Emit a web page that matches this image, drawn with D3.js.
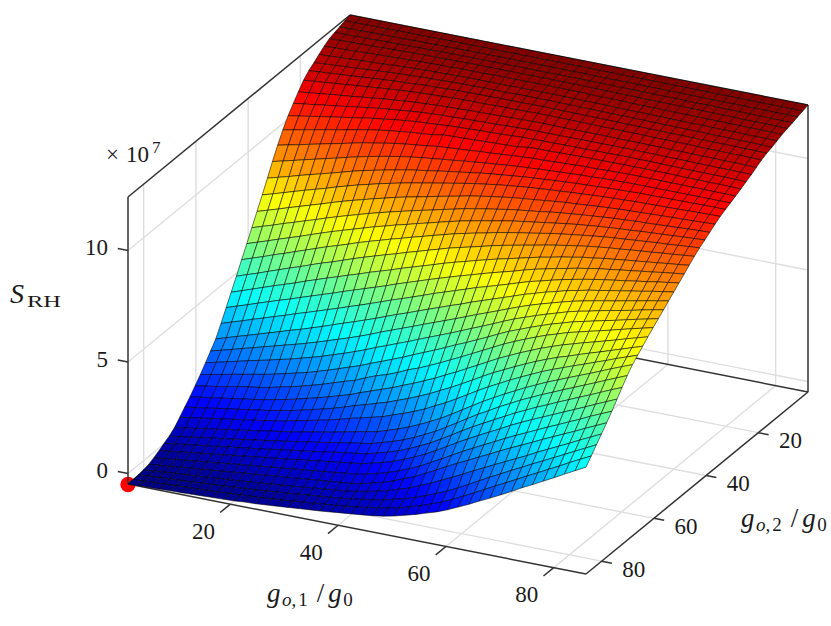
<!DOCTYPE html>
<html>
<head>
<meta charset="utf-8">
<script src="https://cdn.jsdelivr.net/npm/d3@7"></script>
<style>
  body { margin: 0; background: #fff; }
  text { font-family: "Liberation Serif", serif; fill: #1a1a1a; }
</style>
</head>
<body>
<div id="chart"></div>
<script>
// mesh positions of the surface, same grid on both axes
var gridG1 = [1,3,5,6.9,8.9,10.9,12.9,14.8,16.8,18.8,20.8,22.7,24.7,26.7,28.7,30.7,32.6,34.6,36.6,38.6,40.5,42.5,44.5,46.5,48.4,50.4,52.4,54.4,56.3,58.3,60.3,62.3,64.3,66.2,68.2,70.2,72.2,74.1,76.1,78.1,80.1,82,84,86];
var gridG2 = gridG1.slice().reverse();

var g1Ticks = [20, 40, 60, 80];
var g2Ticks = [20, 40, 60, 80];
var zTicks = [0, 500, 1000];
var zTickLabels = ["0", "5", "10"];

// S_RH, in units of 10^5
// one row per g1 value, columns run from g2 = 86 (front) to g2 = 1 (back)
var sRH = [
[-47,-46,-44,-40,-35,-24,-11,3,16,35,62,89,116,147,178,212,246,281,331,383,434,486,541,594,647,701,756,812,868,922,972,1016,1052,1085,1118,1142,1159,1177,1195,1210,1218,1225,1233,1240],
[-45,-44,-41,-36,-30,-19,-5,10,23,43,70,97,124,155,188,223,259,296,347,399,450,503,558,610,663,716,770,825,880,933,981,1024,1059,1091,1123,1146,1162,1179,1197,1211,1219,1226,1233,1240],
[-44,-41,-38,-32,-25,-13,1,16,30,50,77,104,131,162,197,235,272,311,362,415,467,519,574,626,678,731,785,838,892,943,991,1032,1065,1096,1127,1149,1165,1182,1198,1212,1219,1226,1234,1240],
[-42,-39,-35,-28,-20,-8,8,23,38,58,85,112,139,170,207,246,285,325,378,431,483,536,591,642,694,746,799,852,904,954,1000,1040,1072,1102,1132,1153,1168,1184,1200,1213,1220,1227,1234,1240],
[-40,-36,-32,-24,-15,-2,14,29,45,65,92,119,146,181,216,258,298,340,393,447,500,553,607,658,709,761,814,865,916,965,1010,1048,1078,1107,1136,1156,1171,1187,1202,1214,1221,1227,1234,1240],
[-39,-34,-29,-21,-10,4,20,36,52,73,100,127,154,189,226,269,312,355,409,463,516,570,624,674,725,776,828,878,928,976,1019,1056,1085,1112,1141,1160,1175,1189,1204,1216,1222,1228,1235,1240],
[-37,-32,-25,-17,-5,9,26,43,59,80,107,134,161,196,235,280,325,370,424,478,532,586,641,691,740,791,842,891,940,986,1028,1063,1092,1118,1145,1164,1178,1191,1205,1217,1222,1228,1235,1240],
[-35,-29,-22,-13,0,15,32,49,66,88,115,142,169,204,245,292,338,385,440,494,549,603,657,707,756,806,857,904,952,997,1038,1071,1098,1123,1150,1167,1181,1194,1207,1218,1223,1229,1235,1240],
[-33,-27,-19,-9,5,20,39,56,74,95,122,149,179,217,257,303,351,399,455,510,565,620,674,723,771,821,871,918,964,1008,1047,1079,1105,1129,1154,1171,1184,1196,1209,1219,1224,1229,1235,1240],
[-31,-23,-15,-5,10,26,45,62,81,104,131,159,189,227,269,317,365,415,471,526,582,635,689,738,786,835,885,930,975,1016,1055,1085,1110,1133,1158,1173,1186,1199,1210,1220,1224,1230,1236,1240],
[-29,-21,-12,0,15,31,51,70,89,111,140,168,200,239,281,330,380,431,487,542,597,652,705,753,800,848,897,941,985,1025,1062,1092,1115,1138,1161,1176,1188,1200,1211,1220,1225,1230,1236,1240],
[-25,-18,-8,4,20,37,57,77,96,119,150,179,212,252,295,344,395,447,502,558,613,668,721,767,814,861,909,951,994,1033,1067,1097,1120,1141,1164,1179,1190,1201,1212,1221,1226,1231,1236,1240],
[-23,-15,-4,9,25,42,63,84,104,128,160,191,225,266,310,360,411,464,519,574,628,684,736,782,827,873,920,961,1003,1040,1073,1102,1124,1144,1167,1180,1191,1202,1213,1221,1226,1231,1236,1240],
[-19,-10,1,13,29,48,70,91,112,138,171,203,238,282,326,376,427,480,535,590,645,699,750,795,840,886,931,971,1010,1045,1077,1105,1127,1147,1168,1182,1193,1203,1214,1222,1226,1231,1236,1240],
[-15,-7,5,18,34,53,76,98,120,146,182,216,253,298,343,393,444,497,552,606,660,714,765,809,852,897,941,979,1017,1051,1081,1108,1130,1149,1170,1184,1194,1204,1214,1222,1226,1231,1236,1240],
[-11,-2,10,23,39,59,83,105,128,156,194,231,267,312,359,411,462,514,569,622,675,728,778,821,864,907,950,986,1022,1057,1090,1112,1131,1150,1171,1184,1194,1204,1214,1222,1226,1231,1236,1240],
[-7,3,15,28,44,64,89,113,137,166,207,246,285,332,378,430,481,532,586,639,691,743,792,834,875,917,959,994,1028,1061,1092,1114,1133,1152,1172,1185,1195,1204,1215,1222,1226,1231,1236,1240],
[-3,7,19,33,48,69,95,120,145,176,219,260,302,351,396,448,499,550,602,655,706,757,805,846,886,928,968,1001,1033,1064,1093,1116,1134,1153,1172,1185,1195,1204,1215,1222,1226,1231,1236,1240],
[1,12,24,38,53,75,102,127,153,186,231,275,319,366,415,467,517,567,619,671,721,772,819,859,898,938,977,1008,1039,1068,1095,1118,1136,1154,1173,1186,1195,1204,1215,1222,1226,1231,1236,1240],
[6,16,29,43,58,80,108,134,161,195,243,290,336,385,434,485,535,585,636,687,736,786,832,871,909,948,986,1015,1044,1072,1097,1119,1137,1155,1174,1186,1195,1205,1215,1222,1226,1231,1236,1240],
[11,22,36,51,67,91,120,147,175,210,260,307,355,406,454,504,553,602,653,702,751,800,845,883,920,958,994,1022,1049,1074,1099,1121,1139,1157,1174,1186,1196,1205,1215,1222,1226,1231,1236,1240],
[16,28,43,60,78,102,132,160,189,226,276,325,374,423,474,523,571,619,669,717,765,812,856,893,929,966,1001,1028,1053,1078,1100,1123,1140,1158,1175,1187,1196,1205,1215,1222,1226,1231,1236,1240],
[21,35,51,71,91,116,147,176,206,244,295,345,395,444,494,542,589,637,685,732,778,824,867,903,938,974,1008,1033,1058,1082,1102,1125,1142,1159,1176,1187,1196,1205,1215,1222,1226,1231,1236,1240],
[27,43,60,83,107,133,165,195,226,265,315,366,416,466,515,561,607,653,701,746,792,836,877,912,946,981,1014,1038,1062,1085,1109,1126,1142,1159,1176,1186,1195,1204,1214,1221,1226,1231,1236,1240],
[34,51,71,98,126,152,185,216,248,287,339,389,439,488,536,580,625,671,717,760,804,848,888,921,954,988,1019,1043,1065,1088,1111,1127,1142,1159,1175,1186,1195,1204,1214,1221,1225,1230,1236,1240],
[44,62,83,113,145,173,207,239,272,311,362,412,462,511,556,600,644,687,731,774,817,859,897,930,961,993,1024,1047,1069,1089,1111,1127,1142,1158,1175,1185,1194,1203,1213,1220,1225,1230,1235,1240],
[57,76,99,134,169,199,233,266,300,339,389,438,487,535,578,620,662,704,746,787,828,869,906,937,967,998,1028,1050,1071,1091,1112,1128,1142,1158,1174,1185,1194,1203,1212,1220,1224,1230,1235,1240],
[70,90,116,154,194,224,260,294,329,368,417,464,512,559,600,640,680,720,761,800,840,879,914,944,973,1003,1032,1054,1074,1093,1113,1128,1143,1158,1174,1184,1193,1202,1212,1219,1224,1230,1235,1240],
[85,107,135,176,218,250,287,322,357,396,444,490,536,582,622,660,698,736,776,814,851,888,922,951,980,1008,1035,1057,1076,1095,1114,1128,1143,1158,1173,1184,1192,1201,1211,1218,1224,1229,1235,1240],
[100,125,155,198,242,276,313,349,386,425,471,516,561,606,644,680,716,753,791,827,863,898,931,958,986,1013,1039,1060,1079,1097,1115,1129,1143,1158,1173,1183,1192,1201,1210,1218,1223,1229,1235,1240],
[119,147,179,222,265,301,338,375,412,451,495,539,583,627,662,697,733,767,803,838,872,907,938,965,991,1016,1042,1062,1080,1097,1115,1129,1143,1157,1172,1182,1191,1200,1209,1217,1223,1229,1234,1240],
[141,171,204,247,289,325,363,400,439,477,520,562,605,647,681,714,748,782,816,849,883,915,945,971,996,1020,1045,1065,1083,1099,1115,1130,1143,1157,1172,1182,1191,1200,1209,1217,1222,1228,1234,1240],
[163,195,230,270,312,349,387,425,463,501,543,584,625,666,698,730,762,794,828,859,891,923,951,976,1000,1024,1048,1067,1084,1100,1116,1130,1143,1157,1171,1181,1190,1199,1208,1216,1222,1228,1234,1240],
[186,219,255,293,335,372,411,449,487,524,564,604,644,683,714,744,775,807,838,869,900,930,957,981,1004,1027,1050,1069,1085,1101,1115,1129,1142,1156,1170,1181,1189,1198,1208,1216,1221,1228,1234,1240],
[209,244,279,316,358,395,434,471,509,546,586,623,661,698,728,759,788,817,848,877,906,936,963,985,1008,1030,1052,1070,1086,1101,1116,1129,1142,1156,1170,1180,1189,1198,1207,1215,1221,1227,1234,1240],
[233,268,304,339,380,417,456,494,531,568,605,641,678,714,743,771,799,828,857,886,914,942,967,989,1011,1032,1054,1072,1086,1101,1115,1128,1141,1155,1169,1180,1188,1197,1207,1215,1221,1227,1233,1240],
[258,293,328,362,402,439,477,514,551,587,623,656,692,726,754,781,809,836,865,892,919,946,971,992,1014,1034,1055,1072,1086,1100,1115,1128,1141,1155,1169,1179,1188,1197,1206,1214,1220,1227,1233,1240],
[283,317,352,386,424,460,497,535,571,606,640,672,706,738,765,792,818,845,872,899,925,951,975,996,1016,1036,1056,1073,1086,1100,1114,1127,1140,1154,1168,1179,1187,1196,1206,1214,1220,1227,1233,1240],
[307,341,375,409,446,481,518,555,591,625,657,688,719,750,776,802,827,853,879,905,930,956,979,999,1018,1038,1057,1073,1086,1100,1113,1126,1139,1153,1167,1178,1186,1196,1205,1213,1219,1226,1233,1240],
[332,366,399,432,468,503,539,576,611,644,675,703,733,762,787,812,837,862,887,912,936,960,983,1002,1021,1040,1058,1074,1086,1099,1113,1126,1139,1153,1167,1178,1186,1196,1205,1212,1219,1226,1233,1240],
[357,390,423,455,489,524,560,596,631,664,692,719,747,775,799,822,846,870,894,918,941,965,986,1005,1023,1041,1060,1074,1086,1099,1112,1125,1138,1152,1166,1177,1185,1195,1204,1212,1218,1226,1232,1240],
[382,415,446,478,511,546,581,616,651,683,710,734,761,787,810,833,856,879,902,925,947,969,990,1008,1026,1043,1061,1075,1086,1098,1112,1125,1138,1152,1166,1177,1185,1194,1204,1212,1218,1225,1232,1240],
[407,439,470,501,533,567,602,637,671,702,727,750,775,799,821,843,865,887,909,931,952,974,994,1011,1028,1045,1062,1075,1086,1098,1111,1124,1137,1151,1165,1176,1184,1194,1204,1211,1217,1225,1232,1240],
[432,463,494,524,555,588,623,657,691,721,744,766,789,811,832,853,874,895,916,937,958,979,998,1014,1030,1047,1063,1075,1086,1098,1110,1123,1136,1150,1164,1175,1183,1193,1203,1210,1217,1225,1232,1240]
];

var width = 831, height = 626;

// normalised box coordinates, 0..1 along each edge of the plot box
var g1Scale = d3.scaleLinear().domain([1, 86]).range([0, 1]);
var g2Scale = d3.scaleLinear().domain([86, 1]).range([0, 1]);
var zScale = d3.scaleLinear().domain([-47, 1240]).range([0, 1]);

// jet colormap
var jet = d3.scaleLinear()
  .domain([-47, 114, 436, 757, 1079, 1240])
  .range(["#000080", "#0000ff", "#00ffff", "#ffff00", "#ff0000", "#800000"]);

// fixed view of the box: front left corner and how far each edge runs on screen
function project(g1, g2, z) {
  var u = g1Scale(g1), v = g2Scale(g2), w = zScale(z);
  return [128 + 458 * u + 222 * v, 484 + 90 * u - 182 * v - 287 * w];
}

var svg = d3.select("#chart").append("svg")
  .attr("width", width)
  .attr("height", height);

function line3d(parent, a, b, color, lineWidth) {
  var p = project(a[0], a[1], a[2]), q = project(b[0], b[1], b[2]);
  parent.append("line")
    .attr("x1", p[0]).attr("y1", p[1])
    .attr("x2", q[0]).attr("y2", q[1])
    .attr("stroke", color)
    .attr("stroke-width", lineWidth);
}

var g1Min = 1, g1Max = 86, g2Min = 1, g2Max = 86, zMin = -47, zMax = 1240;

// grid lines on the floor and the two back walls
var grid = svg.append("g");
var gridColor = "#dedede";
g1Ticks.forEach(function(t) {
  line3d(grid, [t, g2Max, zMin], [t, g2Min, zMin], gridColor, 1.4);
  line3d(grid, [t, g2Min, zMin], [t, g2Min, zMax], gridColor, 1.4);
});
g2Ticks.forEach(function(t) {
  line3d(grid, [g1Min, t, zMin], [g1Max, t, zMin], gridColor, 1.4);
  line3d(grid, [g1Min, t, zMin], [g1Min, t, zMax], gridColor, 1.4);
});
zTicks.forEach(function(t) {
  line3d(grid, [g1Min, g2Max, t], [g1Min, g2Min, t], gridColor, 1.4);
  line3d(grid, [g1Min, g2Min, t], [g1Max, g2Min, t], gridColor, 1.4);
});

// the red marker in the corner
var corner = project(g1Min, g2Max, zMin);
svg.append("circle")
  .attr("cx", corner[0])
  .attr("cy", corner[1] + 0.5)
  .attr("r", 7.7)
  .attr("fill", "#ff0000");

// box outline and ticks
var box = svg.append("g");
var axisColor = "#333333";
line3d(box, [g1Min, g2Max, zMin], [g1Min, g2Max, zMax], axisColor, 1.5);
line3d(box, [g1Min, g2Max, zMax], [g1Min, g2Min, zMax], axisColor, 1.5);
line3d(box, [g1Min, g2Min, zMax], [g1Max, g2Min, zMax], axisColor, 1.5);
line3d(box, [g1Max, g2Min, zMax], [g1Max, g2Min, zMin], axisColor, 1.5);
line3d(box, [g1Max, g2Min, zMin], [g1Min, g2Min, zMin], axisColor, 1.5);
line3d(box, [g1Min, g2Min, zMin], [g1Min, g2Max, zMin], axisColor, 1.5);
line3d(box, [g1Min, g2Max, zMin], [g1Max, g2Max, zMin], axisColor, 1.5);
line3d(box, [g1Max, g2Max, zMin], [g1Max, g2Min, zMin], axisColor, 1.5);

g1Ticks.forEach(function(t) {
  line3d(box, [t, g2Max, zMin], [t, g2Max + 3.9, zMin], axisColor, 1.5);
});
g2Ticks.forEach(function(t) {
  line3d(box, [g1Max, t, zMin], [g1Max + 1.9, t, zMin], axisColor, 1.5);
});
zTicks.forEach(function(t) {
  line3d(box, [g1Min, g2Max, t], [g1Min - 1.9, g2Max, t], axisColor, 1.5);
});

// surface cells, painted from the back of the box to the front
var cells = [];
sRH.slice(0, -1).forEach(function(row, i) {
  row.slice(0, -1).forEach(function(z, j) {
    var zs = [z, row[j + 1], sRH[i + 1][j + 1], sRH[i + 1][j]];
    cells.push({
      i: i,
      j: j,
      z: d3.mean(zs),
      corners: [
        project(gridG1[i], gridG2[j], zs[0]),
        project(gridG1[i], gridG2[j + 1], zs[1]),
        project(gridG1[i + 1], gridG2[j + 1], zs[2]),
        project(gridG1[i + 1], gridG2[j], zs[3])
      ]
    });
  });
});
cells.sort(function(a, b) {
  return (b.j - a.j) || (a.i - b.i);
});

svg.append("g")
  .selectAll("polygon")
  .data(cells)
  .enter()
  .append("polygon")
  .attr("points", function(d) {
    return d.corners.map(function(c) { return c[0].toFixed(2) + "," + c[1].toFixed(2); }).join(" ");
  })
  .attr("fill", function(d) { return jet(d.z); })
  .attr("stroke", "#000")
  .attr("stroke-width", 0.55)
  .attr("stroke-linejoin", "round");

// tick labels
var labels = svg.append("g").attr("font-size", 23);
g1Ticks.forEach(function(t) {
  var p = project(t, g2Max, zMin);
  labels.append("text")
    .attr("x", p[0] - 27).attr("y", p[1] + 27)
    .attr("dy", "0.33em")
    .attr("text-anchor", "middle")
    .text(t);
});
g2Ticks.forEach(function(t) {
  var p = project(g1Max, t, zMin);
  labels.append("text")
    .attr("x", p[0] + 32).attr("y", p[1] + 8)
    .attr("dy", "0.33em")
    .attr("text-anchor", "middle")
    .text(t);
});
zTicks.forEach(function(t, i) {
  var p = project(g1Min, g2Max, t);
  labels.append("text")
    .attr("x", 108).attr("y", p[1] - 3)
    .attr("dy", "0.33em")
    .attr("text-anchor", "end")
    .text(zTickLabels[i]);
});

// exponent above the z axis
var exponent = svg.append("text")
  .attr("x", 106).attr("y", 162)
  .attr("font-size", 23);
exponent.append("tspan").text("\u00d7");
exponent.append("tspan").attr("dx", 7).text("10");
exponent.append("tspan").attr("font-size", 17).attr("dy", -9).attr("dx", 3).text("7");

// z axis title
svg.append("text")
  .attr("x", 10).attr("y", 303)
  .attr("font-size", 28)
  .attr("font-style", "italic")
  .text("S");
svg.append("text")
  .attr("x", 27).attr("y", 307)
  .attr("font-size", 17)
  .attr("textLength", 34)
  .attr("lengthAdjust", "spacingAndGlyphs")
  .text("RH");

// g_{o,n}/g_0 titles for the two floor axes
function mathLabel(x, y, index) {
  var t = svg.append("text").attr("x", x).attr("y", y).attr("font-size", 27);
  t.append("tspan").attr("font-style", "italic").text("g");
  t.append("tspan").attr("font-size", 19).attr("font-style", "italic").attr("dy", 4).attr("dx", 1.5).text("o");
  t.append("tspan").attr("font-size", 19).text(",");
  t.append("tspan").attr("font-size", 19).attr("dx", 2).text(index);
  t.append("tspan").attr("dy", -4).attr("dx", 9).text("/");
  t.append("tspan").attr("font-style", "italic").attr("dx", 4).text("g");
  t.append("tspan").attr("font-size", 19).attr("dy", 4).attr("dx", 1.5).text("0");
}
mathLabel(267, 602, "1");
mathLabel(741, 527, "2");
</script>
</body>
</html>
